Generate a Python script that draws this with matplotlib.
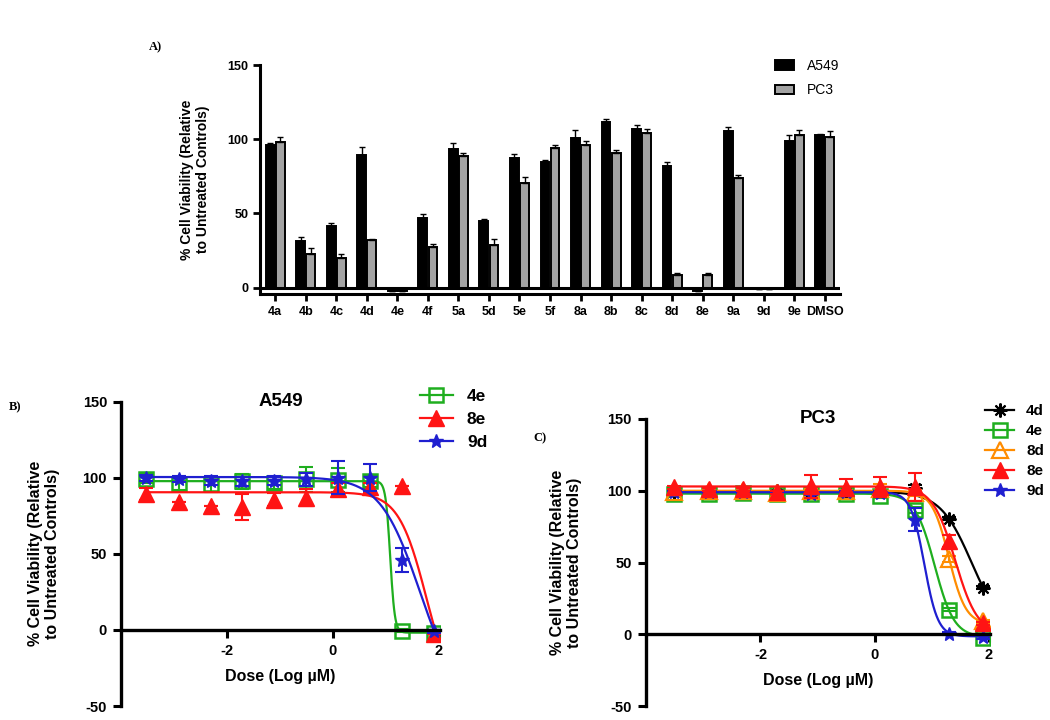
import numpy as np
import matplotlib.pyplot as plt
from matplotlib.lines import Line2D
from matplotlib.patches import Patch

plt.rcParams['font.family'] = ['Liberation Sans', 'DejaVu Sans']
plt.rcParams['axes.unicode_minus'] = False

# ---- panel A: single-dose screen ----
compounds = ["4a", "4b", "4c", "4d", "4e", "4f", "5a", "5d", "5e", "5f",
             "8a", "8b", "8c", "8d", "8e", "9a", "9d", "9e", "DMSO"]
a549_viab = [96.2, 31.3, 41.8, 89.5, -2.0, 46.8, 93.5, 45.0, 87.2, 84.8,
             100.9, 111.6, 107.2, 81.7, -2.0, 105.4, -0.8, 99.1, 102.9]
a549_err = [1.0, 3.0, 2.0, 5.0, 0.0, 2.5, 4.0, 1.0, 2.5, 1.3,
            5.0, 1.8, 2.2, 2.7, 0.0, 3.0, 0.0, 3.4, 0.7]
pc3_viab = [97.8, 22.4, 20.0, 31.8, -2.0, 27.7, 89.0, 28.6, 70.2, 94.2,
            96.4, 90.4, 104.3, 8.7, 8.5, 73.8, -1.2, 102.7, 101.6]
pc3_err = [3.5, 4.0, 2.7, 1.0, 0.0, 2.0, 2.0, 4.3, 4.0, 2.0,
           2.5, 2.5, 2.7, 1.3, 1.3, 1.8, 0.0, 3.4, 3.8]

# ---- panels B/C: dose response ----
log_dose = [-3.52, -2.91, -2.31, -1.71, -1.11, -0.51, 0.10, 0.70, 1.30, 1.90]

a549_4e = [99.3, 96.0, 95.6, 97.8, 96.7, 98.9, 98.5, 97.8, -0.4, -1.8]
a549_4e_err = [3, 4, 5, 5, 4, 8, 8, 4, 1, 1]
a549_8e = [89.5, 84.2, 81.3, 80.7, 85.7, 86.8, 92.7, 93.8, 94.5, -2.6]
a549_8e_err = [4, 0, 0, 8.7, 4, 5.5, 4, 3, 0, 0]
a549_9d = [100.0, 98.9, 98.2, 97.8, 98.2, 98.9, 100.0, 100.0, 45.9, -1.0]
a549_9d_err = [2, 2, 3, 3, 3, 4, 10.8, 9, 8, 1]

pc3_4d = [99.0, 99.5, 99.5, 99.5, 99.0, 99.0, 99.5, 101.9, 80.5, 32.5]
pc3_4d_err = [1, 1, 1, 1, 1, 1, 1, 2, 1, 1]
pc3_4e = [97.5, 98.0, 98.5, 98.0, 98.0, 98.0, 96.0, 86.7, 17.0, -2.3]
pc3_4e_err = [1, 1, 1, 1, 1, 1, 1, 2, 1, 1]
pc3_8d = [99.0, 100.0, 100.0, 98.5, 100.0, 99.5, 101.0, 98.4, 52.6, 9.0]
pc3_8d_err = [1, 1, 1, 1, 1, 1, 4, 2, 2, 1]
pc3_8e = [102.5, 101.0, 101.0, 99.0, 103.0, 102.0, 102.5, 102.6, 65.1, 7.7]
pc3_8e_err = [1, 1, 1, 1, 8, 6, 7, 10, 4, 1]
pc3_9d = [99.0, 99.0, 99.0, 99.0, 98.0, 99.0, 98.5, 79.8, 0.5, -2.0]
pc3_9d_err = [1, 1, 1, 1, 1, 1, 1, 8, 1, 1]

# fitted 4PL parameters (top, bottom, logIC50, hill)
a549_fit = {"4e": (97.8, -1.8, 1.08, 10.0), "8e": (90.5, -50.0, 1.77, 1.64),
            "9d": (100.5, -50.0, 1.64, 1.16)}
pc3_fit = {"4d": (99.5, 0.0, 1.70, 1.57), "4e": (98.0, -2.0, 1.05, 2.54),
           "8d": (100.0, 7.0, 1.30, 2.93), "8e": (103.0, 0.0, 1.41, 2.21),
           "9d": (99.0, -1.5, 0.87, 3.65)}


def four_pl(x, top, bottom, logic50, hill):
    return bottom + (top - bottom) / (1 + 10 ** ((x - logic50) * hill))


GREEN = '#1fae1f'
RED = '#ff1414'
BLUE = '#1f1fd0'
ORANGE = '#ff8c00'

styles = {
    "4d": dict(color='black', marker=(8, 2, 0), mfc='black', ms=10, mew=1.5),
    "4e": dict(color=GREEN, marker='s', mfc='none', ms=10, mew=1.8),
    "8d": dict(color=ORANGE, marker='^', mfc='none', ms=11, mew=1.6),
    "8e": dict(color=RED, marker='^', mfc=RED, ms=11, mew=1.0),
    "9d": dict(color=BLUE, marker='*', mfc=BLUE, ms=10, mew=1.0),
}

fig = plt.figure(figsize=(10.5, 7.2), dpi=100)


def fig_rect(x0, y0, x1, y1):
    W, H = 1050, 720
    return [x0 / W, 1 - y1 / H, (x1 - x0) / W, (y1 - y0) / H]


# ---------------- A ----------------
ax = fig.add_axes(fig_rect(260, 65, 840, 294))
x = np.arange(len(compounds))
w = 0.29
off = 0.165
ax.bar(x - off, a549_viab, w, color='black', edgecolor='black', lw=1.4)
ax.bar(x + off, pc3_viab, w, color='#a3a3a3', edgecolor='black', lw=1.4)
ax.errorbar(x - off, a549_viab, yerr=[np.zeros(len(x)), a549_err], fmt='none',
            ecolor='black', elinewidth=1.0, capsize=2.5, capthick=1.0)
ax.errorbar(x + off, pc3_viab, yerr=[np.zeros(len(x)), pc3_err], fmt='none',
            ecolor='black', elinewidth=1.0, capsize=2.5, capthick=1.0)
ax.axhline(0, color='black', lw=2.2)
ax.set_xlim(-0.5, len(compounds) - 0.5)
ax.set_ylim(-4.3, 150)
ax.set_yticks([0, 50, 100, 150])
ax.set_xticks(x)
ax.set_xticklabels(compounds)
for s in ['top', 'right']:
    ax.spines[s].set_visible(False)
for s in ['left', 'bottom']:
    ax.spines[s].set_linewidth(2.2)
ax.tick_params(width=2, length=5, labelsize=9)
for t in ax.get_xticklabels() + ax.get_yticklabels():
    t.set_fontweight('bold')
ax.set_ylabel("% Cell Viability (Relative\nto Untreated Controls)",
              fontsize=10, fontweight='bold')
ax.yaxis.set_label_coords(-0.086, 0.5)
ax.legend(handles=[Patch(facecolor='black', edgecolor='black', lw=1.4, label='A549'),
                   Patch(facecolor='#a3a3a3', edgecolor='black', lw=1.4, label='PC3')],
          loc='upper left', bbox_to_anchor=(775 / 1050, 1 - 59 / 720),
          bbox_transform=fig.transFigure, frameon=False, fontsize=10,
          handlelength=1.4, handleheight=0.7, handletextpad=0.9,
          labelspacing=0.75, borderpad=0, borderaxespad=0)
fig.text(155 / 1050, 1 - 47 / 720, "A)", family='Liberation Serif',
         fontweight='bold', fontsize=9, ha='center', va='center')


def dose_panel(rect, title, series, fits, order, legend_anchor, leg_fs, leg_sp,
               label_x):
    ax = fig.add_axes(fig_rect(*rect))
    xc = np.linspace(log_dose[0], log_dose[-1], 400)
    for name in order:
        y, err = series[name]
        st = styles[name]
        ax.errorbar(log_dose, y, yerr=err, fmt='none', ecolor=st['color'],
                    elinewidth=1.5, capsize=5, capthick=1.5)
        ax.plot(xc, four_pl(xc, *fits[name]), color=st['color'], lw=1.6)
        ax.plot(log_dose, y, ls='none', marker=st['marker'], color=st['color'],
                mfc=st['mfc'], mec=st['color'], ms=st['ms'], mew=st['mew'])
    ax.set_ylim(-50, 150)
    ax.set_yticks([-50, 0, 50, 100, 150])
    ax.set_xticks([-2, 0, 2])
    for s in ['top', 'right']:
        ax.spines[s].set_visible(False)
    for s in ['left', 'bottom']:
        ax.spines[s].set_linewidth(2.4)
    ax.spines['bottom'].set_position(('data', 0))
    ax.tick_params(width=2.2, length=6, labelsize=10.5, pad=4)
    for t in ax.get_xticklabels() + ax.get_yticklabels():
        t.set_fontweight('bold')
    ax.set_xlabel("Dose (Log \u00b5M)", fontsize=11.5, fontweight='bold',
                  labelpad=8)
    ax.set_ylabel("% Cell Viability (Relative\nto Untreated Controls)",
                  fontsize=11.5, fontweight='bold')
    ax.yaxis.set_label_coords(label_x, 0.5)
    ax.text(0.5, 1.0, title, transform=ax.transAxes, ha='center', va='center',
            fontsize=13.5, fontweight='bold')
    handles = []
    for name in sorted(series):
        st = styles[name]
        handles.append(Line2D([], [], color=st['color'], lw=1.6,
                              marker=st['marker'], mfc=st['mfc'],
                              mec=st['color'], ms=st['ms'], mew=st['mew'],
                              label=name))
    ax.legend(handles=handles, loc='upper left', bbox_to_anchor=legend_anchor,
              bbox_transform=fig.transFigure, frameon=False,
              prop={'weight': 'bold', 'size': leg_fs}, handlelength=1.9,
              handletextpad=0.8, labelspacing=leg_sp, borderpad=0,
              borderaxespad=0)
    return ax


axB = dose_panel((121, 401.7, 440, 706), "A549",
                 {"4e": (a549_4e, a549_4e_err), "8e": (a549_8e, a549_8e_err),
                  "9d": (a549_9d, a549_9d_err)},
                 a549_fit, ["4e", "8e", "9d"], (420 / 1050, 1 - 389 / 720),
                 12.5, 0.45, -0.19)
axB.set_xlim(-4.0, 2.02)

axC = dose_panel((645.7, 419, 990, 706), "PC3",
                 {"4d": (pc3_4d, pc3_4d_err), "4e": (pc3_4e, pc3_4e_err),
                  "8d": (pc3_8d, pc3_8d_err), "8e": (pc3_8e, pc3_8e_err),
                  "9d": (pc3_9d, pc3_9d_err)},
                 pc3_fit, ["4d", "4e", "8d", "9d", "8e"],
                 (985 / 1050, 1 - 404 / 720), 11, 0.4, -0.185)
axC.set_xlim(-4.01, 2.02)

fig.text(15 / 1050, 1 - 407 / 720, "B)", family='Liberation Serif',
         fontweight='bold', fontsize=9, ha='center', va='center')
fig.text(540 / 1050, 1 - 438 / 720, "C)", family='Liberation Serif',
         fontweight='bold', fontsize=9, ha='center', va='center')

fig.savefig("out.png", dpi=100)
